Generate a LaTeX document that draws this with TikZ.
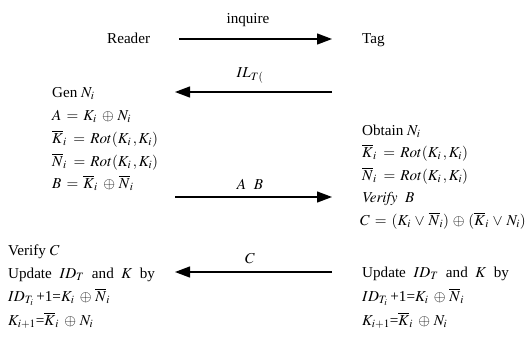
\documentclass[tikz,border=0pt]{standalone}
\usepackage{mathptmx}
\usepackage[no-math]{fontspec}
\setmainfont{Liberation Serif}
\usetikzlibrary{arrows.meta}
\medmuskip=4.5mu
\thickmuskip=6mu
\begin{document}
\begin{tikzpicture}[x=1bp,y=-1bp,
  txt/.style={anchor=base west,inner sep=0pt,font=\fontsize{15.2}{18}\selectfont},
  lbl/.style={anchor=base,inner sep=0pt,font=\fontsize{15.2}{18}\selectfont},
  msg/.style={line width=1.3bp,-{Triangle[length=15bp,width=11bp]}}]
\useasboundingbox (0,0) rectangle (525,343);
% participants
\node[txt] (reader) at (107,43) {Reader};
\node[txt] (tag) at (362,43) {Tag};
% message 1
\coordinate (m1s) at (179,39);
\coordinate (m1e) at (332,39);
\draw[msg] (m1s) -- (m1e);
\node[lbl] (l1) at (248,23) {inquire};
% message 2
\coordinate (m2s) at (332,92);
\coordinate (m2e) at (175,92);
\draw[msg] (m2s) -- (m2e);
\node[lbl] (l2) at (250,77) {$IL_{T(}$};
% message 3
\coordinate (m3s) at (175,197);
\coordinate (m3e) at (332,197);
\draw[msg] (m3s) -- (m3e);
\node[lbl] (l3) at (250,189) {$A\ \ B$};
% message 4
\coordinate (m4s) at (332,272);
\coordinate (m4e) at (175,272);
\draw[msg] (m4s) -- (m4e);
\node[lbl] (l4) at (250,263) {$C$};
% reader block 1
\node[txt] (r1) at (52,97) {Gen $N_i$};
\node[txt] (r2) at (52,120) {$A = K_i\, \oplus N_i$};
\node[txt] (r3) at (52,143) {$\overline{K}_i\, = Rot(K_i\,, K_i)$};
\node[txt] (r4) at (52,166) {$\overline{N}_i\, = Rot(K_i\,, K_i)$};
\node[txt] (r5) at (52,188) {$B = \overline{K}_i\, \oplus \overline{N}_i$};
% tag block 1
\node[txt] (t1) at (362,135) {Obtain $N_i$};
\node[txt] (t2) at (362,157.5) {$\overline{K}_i\, = Rot(K_i\,, K_i)$};
\node[txt] (t3) at (362,180) {$\overline{N}_i\, = Rot(K_i\,, K_i)$};
\node[txt] (t4) at (362,202.5) {$\mathit{Verify}\ \ B$};
\node[txt] (t5) at (360,225) {$C = (K_i \vee \overline{N}_i) \oplus (\overline{K}_i \vee N_i)$};
% reader block 2
\node[txt] (r6) at (8,255) {Verify $C$};
\node[txt] (r7) at (8,278) {Update \ $ID_T$ \ and \ $K$ \ by};
\node[txt] (r8) at (8,301) {$ID_{T_i}$\,+1=$K_i\, \oplus \overline{N}_i$};
\node[txt] (r9) at (8,325) {$K_{i+1}$=$\overline{K}_i\, \oplus N_i$};
% tag block 2
\node[txt] (t6) at (362,277) {Update \ $ID_T$ \ and \ $K$ \ by};
\node[txt] (t7) at (362,301) {$ID_{T_i}$\,+1=$K_i\, \oplus \overline{N}_i$};
\node[txt] (t8) at (362,325) {$K_{i+1}$=$\overline{K}_i\, \oplus N_i$};
\end{tikzpicture}
\end{document}
